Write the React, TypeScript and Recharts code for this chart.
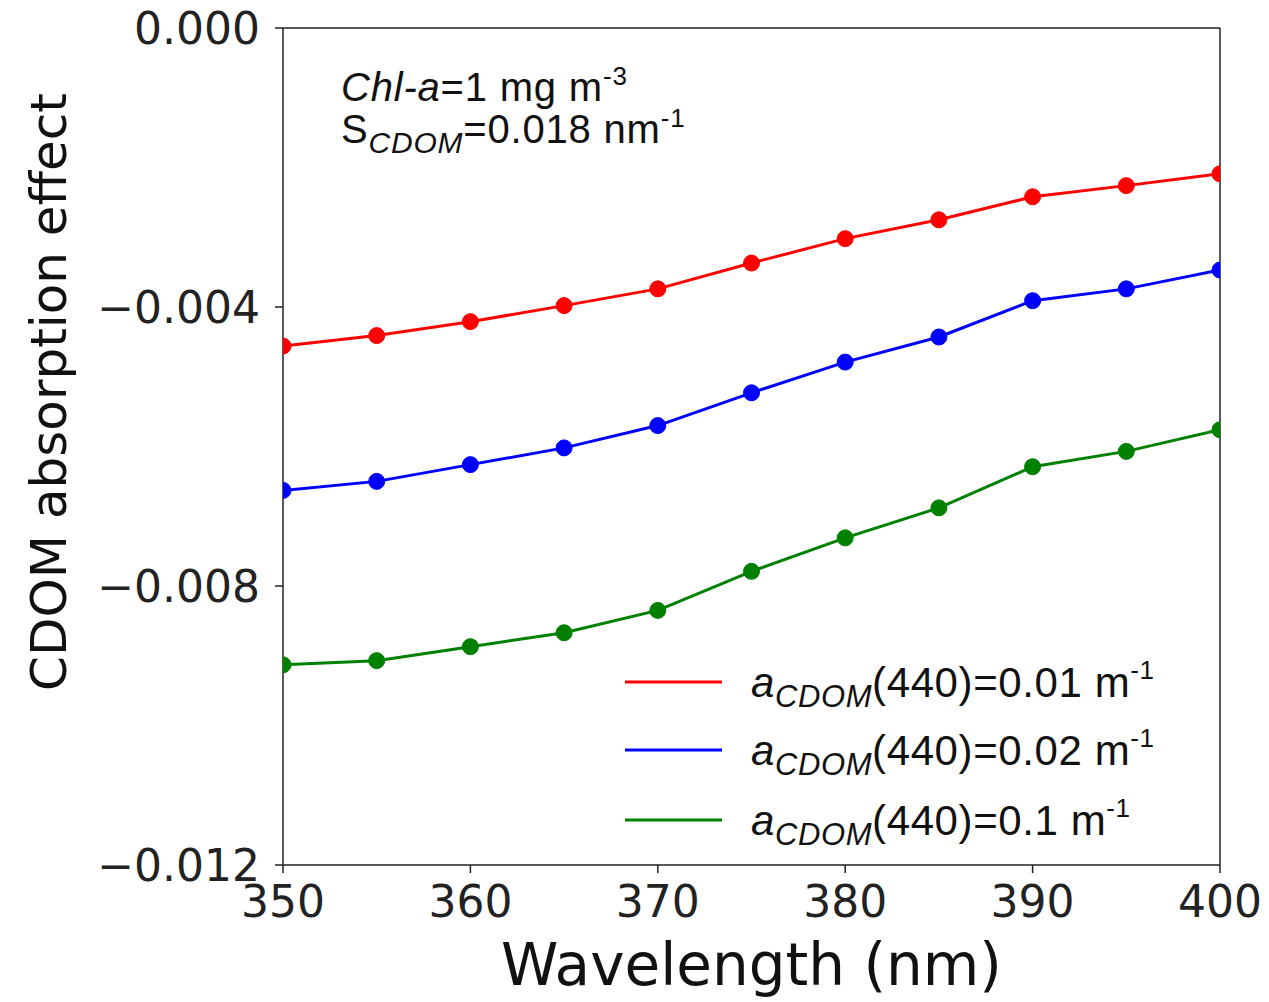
import {
  ComposedChart,
  Line,
  XAxis,
  YAxis,
  ReferenceLine,
  Customized,
} from "recharts";
import { JSX } from "react";

const wavelengths = [350, 355, 360, 365, 370, 375, 380, 385, 390, 395, 400];
const cdom001 = [-0.00456, -0.00441, -0.00421, -0.00398, -0.00374, -0.00337, -0.00302, -0.00275, -0.00242, -0.00226, -0.00209];
const cdom002 = [-0.00663, -0.0065, -0.00626, -0.00602, -0.0057, -0.00523, -0.00479, -0.00443, -0.00391, -0.00374, -0.00347];
const cdom01 = [-0.00913, -0.00907, -0.00887, -0.00867, -0.00835, -0.00779, -0.00731, -0.00688, -0.00629, -0.00607, -0.00576];
const xTicks = [350, 360, 370, 380, 390, 400];
const yTicks = [-0.012, -0.008, -0.004, 0];
const seriesLabels = ["0.01", "0.02", "0.1"];
const seriesColors = ["#ff0000", "#0000ff", "#008000"];

const data = wavelengths.map((w, i) => ({
  w,
  a001: cdom001[i],
  a002: cdom002[i],
  a01: cdom01[i],
}));

const TICK_FONT = "'DejaVu Sans', sans-serif";
const TEXT_FONT = "'Liberation Sans', Arial, sans-serif";
const AXIS_COLOR = "#222";

const fmtY = (v: number) => (v === 0 ? "0.000" : "\u2212" + Math.abs(v).toFixed(3));

// legend drawn by hand so it does not eat into the plot area
const legendRows = [682, 750, 820];
const LegendBox = (): JSX.Element => (
  <g>
    {seriesLabels.map((lab, i) => {
      const y = legendRows[i];
      return (
        <g key={lab}>
          <line x1={625} x2={722} y1={y} y2={y} stroke={seriesColors[i]} strokeWidth={3} />
          <text x={751} y={y + 15} fontFamily={TEXT_FONT} fontSize={42} letterSpacing={0.6} fill="#111">
            <tspan fontStyle="italic">a</tspan>
            <tspan fontStyle="italic" fontSize={31} dy={10}>CDOM</tspan>
            <tspan dy={-10}>(440)={lab} m</tspan>
            <tspan fontSize={26} dy={-18}>-1</tspan>
          </text>
        </g>
      );
    })}
  </g>
);

const Annotation = (): JSX.Element => (
  <g fontFamily={TEXT_FONT} fontSize={40} letterSpacing={0.8} fill="#111">
    <text x={341} y={101}>
      <tspan fontStyle="italic">Chl-a</tspan>
      <tspan>=1 mg m</tspan>
      <tspan fontSize={26} dy={-16}>-3</tspan>
    </text>
    <text x={341} y={143}>
      <tspan>S</tspan>
      <tspan fontStyle="italic" fontSize={30} dy={10}>CDOM</tspan>
      <tspan dy={-10}>=0.018 nm</tspan>
      <tspan fontSize={26} dy={-16}>-1</tspan>
    </text>
  </g>
);

export default function App(): JSX.Element {
  return (
    <div style={{ position: "absolute", left: 0, top: 0, background: "#fff" }}>
      <ComposedChart
        width={1269}
        height={1002}
        data={data}
        margin={{ top: 28, right: 49, bottom: 0, left: 0 }}
      >
        <XAxis
          dataKey="w"
          type="number"
          domain={[350, 400]}
          ticks={xTicks}
          allowDataOverflow
          height={137}
          tickSize={8}
          tickMargin={13}
          stroke={AXIS_COLOR}
          strokeWidth={1.5}
          tick={{ fontFamily: TICK_FONT, fontSize: 44, fill: AXIS_COLOR }}
          label={({ viewBox }: any) => (
            <text
              x={viewBox.x + viewBox.width / 2}
              y={985}
              textAnchor="middle"
              fontFamily={TICK_FONT}
              fontSize={58}
              fill="#111"
            >
              Wavelength (nm)
            </text>
          )}
        />
        <YAxis
          type="number"
          domain={[-0.012, 0]}
          ticks={yTicks}
          allowDataOverflow
          width={283}
          tickSize={8}
          tickMargin={15}
          tickFormatter={fmtY}
          stroke={AXIS_COLOR}
          strokeWidth={1.5}
          tick={{ fontFamily: TICK_FONT, fontSize: 44, fill: AXIS_COLOR }}
          label={() => (
            <text
              x={66}
              y={392}
              transform="rotate(-90 66 392)"
              textAnchor="middle"
              fontFamily={TICK_FONT}
              fontSize={50}
              fill="#111"
            >
              CDOM absorption effect
            </text>
          )}
        />
        {/* top and right spines */}
        <ReferenceLine y={0} stroke={AXIS_COLOR} strokeWidth={1.5} />
        <ReferenceLine x={400} stroke={AXIS_COLOR} strokeWidth={1.5} />
        <Line
          dataKey="a001"
          stroke={seriesColors[0]}
          strokeWidth={3}
          dot={{ r: 8, fill: seriesColors[0], stroke: seriesColors[0], strokeWidth: 1 }}
          isAnimationActive={false}
        />
        <Line
          dataKey="a002"
          stroke={seriesColors[1]}
          strokeWidth={3}
          dot={{ r: 8, fill: seriesColors[1], stroke: seriesColors[1], strokeWidth: 1 }}
          isAnimationActive={false}
        />
        <Line
          dataKey="a01"
          stroke={seriesColors[2]}
          strokeWidth={3}
          dot={{ r: 8, fill: seriesColors[2], stroke: seriesColors[2], strokeWidth: 1 }}
          isAnimationActive={false}
        />
        <Customized component={LegendBox} />
        <Customized component={Annotation} />
      </ComposedChart>
    </div>
  );
}
